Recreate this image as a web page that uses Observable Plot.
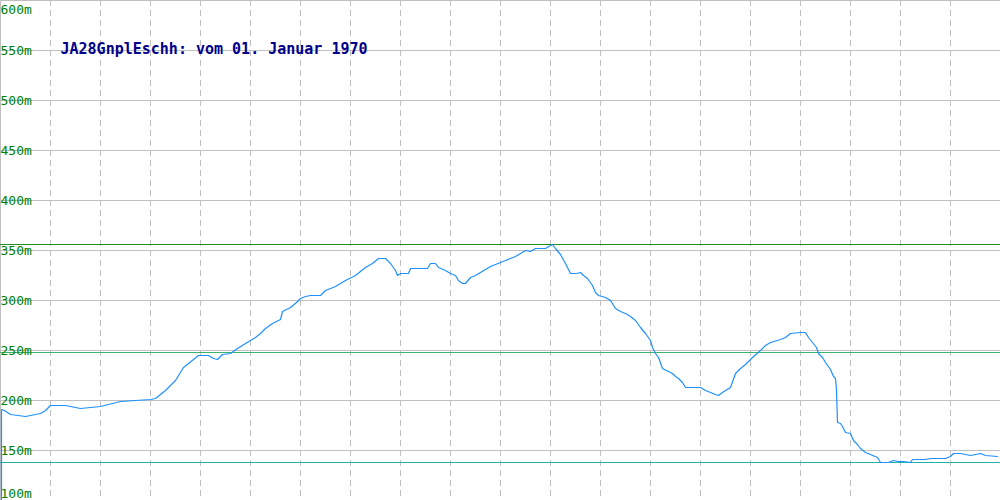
<!DOCTYPE html>
<html>
<head>
<meta charset="utf-8">
<script src="https://cdn.jsdelivr.net/npm/d3@7"></script>
<script src="https://cdn.jsdelivr.net/npm/@observablehq/plot@0.6"></script>
<style>
  html, body { margin: 0; padding: 0; background: #fff; }
  #chart svg { display: block; }
</style>
</head>
<body>
<div id="chart"></div>
<script>
// Profile: horizontal position (distance units 0–1000) and elevation (m)
const distances = [1,1,4,10,25,40,45,50,65,75,80,100,120,135,150,155,160,165,175,183,198,208,213,217,222,230,237,245,255,260,265,272,280,282,290,296,300,305,310,320,325,335,345,355,365,372,378,385,390,395,397,400,408,410,427,430,435,438,445,450,455,458,462,465,470,475,480,490,500,510,515,520,525,530,535,545,550,552,555,560,565,570,576,580,583,587,592,595,598,605,610,615,620,625,630,635,640,645,650,652,655,658,662,668,672,675,678,682,685,700,705,710,715,718,722,725,730,735,740,745,752,760,765,770,780,785,790,800,805,808,812,816,818,822,825,830,833,835,836,837,840,842,845,850,853,857,860,865,870,877,880,888,893,898,903,910,912,925,930,945,950,953,960,970,975,980,985,997];
const elevations = [0,191,190,186,184,187,190,195,195,193,192,194,199,200,201,202,206,210,220,233,245,245,242,241,246,247,252,257,263,267,272,277,281,289,293,298,302,304,305,305,310,314,320,325,333,337,342,342,337,330,325,327,327,332,332,337,337,333,330,327,325,320,317,317,323,325,328,334,338,342,344,347,350,349,352,352,355,356,352,346,337,327,327,328,325,322,315,308,305,303,300,292,289,287,284,280,273,267,260,253,247,243,232,229,227,224,222,218,213,213,210,208,206,205,208,210,213,227,232,236,243,250,255,258,261,263,267,268,268,263,258,253,247,243,238,231,224,222,210,178,177,174,168,167,160,156,152,148,146,143,138,138,140,139,139,138,141,141,142,142,144,147,147,145,146,147,145,144];

// Reference lines: maximum, mean, minimum
const refValues = [356, 248, 138];
const refColors = ["#1e8c1e", "#3cb371", "#20b2aa"];

const yTicks = [600, 550, 500, 450, 400, 350, 300, 250, 200, 150, 100];
const yTickLabels = yTicks.map(v => v + "m");
const xGrid = [50, 100, 150, 200, 250, 300, 350, 400, 450, 500, 550, 600, 650, 700, 750, 800, 850, 900, 950];
const title = "JA28GnplEschh: vom 01. Januar 1970";

const profile = distances.map((d, i) => ({d, e: elevations[i]}));
const refs = refValues.map((v, i) => ({v, c: refColors[i]}));
const ticks = yTicks.map((v, i) => ({v, label: yTickLabels[i]}));
const innerTicks = ticks.filter(t => t.v !== 600 && t.v !== 100);

const mono = "DejaVu Sans Mono, monospace";
const grey = "#c0c0c0";
const labelGreen = "#008000";

const chart = Plot.plot({
  width: 1000,
  height: 500,
  margin: 0,
  style: {background: "#fff", fontFamily: mono},
  x: {domain: [0, 1000], axis: null},
  y: {domain: [100, 600], axis: null},
  marks: [
    Plot.ruleX(xGrid, {stroke: grey, strokeWidth: 1, strokeDasharray: "6,4"}),
    Plot.ruleY(yTicks.filter(v => v !== 600 && v !== 100), {stroke: grey, strokeWidth: 1}),
    Plot.frame({stroke: grey, strokeWidth: 1}),
    Plot.ruleY(refs, {y: "v", stroke: "c", strokeWidth: 1}),
    Plot.line(profile, {x: "d", y: "e", stroke: "#1e90ff", strokeWidth: 1.2, clip: true}),
    Plot.text(innerTicks, {y: "v", text: "label", frameAnchor: "left", textAnchor: "start", lineAnchor: "middle", fill: labelGreen, fontSize: 13, fontFamily: mono}),
    Plot.text(ticks.filter(t => t.v === 600), {y: "v", text: "label", frameAnchor: "left", textAnchor: "start", lineAnchor: "middle", dy: 9, fill: labelGreen, fontSize: 13, fontFamily: mono}),
    Plot.text(ticks.filter(t => t.v === 100), {y: "v", text: "label", frameAnchor: "left", textAnchor: "start", lineAnchor: "middle", dy: -7, fill: labelGreen, fontSize: 13, fontFamily: mono}),
    Plot.text([title], {text: d => d, frameAnchor: "top-left", textAnchor: "start", lineAnchor: "middle", dx: 60, dy: 48.5, fill: "#00008b", fontSize: 15, fontWeight: "bold", fontFamily: mono})
  ]
});
document.getElementById("chart").appendChild(chart);
</script>
</body>
</html>
